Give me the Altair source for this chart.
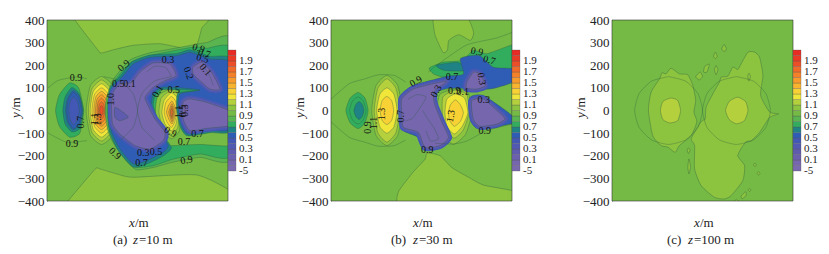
import altair as alt

LEVELS = [-5, 0, .1, .2, .3, .4, .5, .6, .7, .8, .9, 1.0, 1.1, 1.2, 1.3, 1.4, 1.5, 1.6, 1.7, 1.8, 1.9, 2.0]
BAND_COLORS = ["#7A69AE", "#7566AE", "#6A60AE", "#5F5BAF", "#5159B2", "#4358B4", "#2F5DB5", "#1F8284",
               "#32AD5E", "#5AB44F", "#74BA45", "#8CC33F", "#B4D03D", "#F0E63A", "#F8D135", "#F8B42F",
               "#F69B2C", "#F4812A", "#F06A29", "#EC4F27", "#EA3A26", "#E82B24"]
COL = dict(zip(LEVELS, BAND_COLORS))
BAR_LABELS = ["-5", "0.1", "0.3", "0.5", "0.7", "0.9", "1.1", "1.3", "1.5", "1.7", "1.9"]
LINE = "#2c5a3a"
FONT = "Liberation Serif"

# ---------- panel (a) z=10 m ----------
a_top = [(-277,420),(-277,400),(-174,266),(-160,254),(-100,270),(-19,288),(99,295),(217,273),(261,288),(283,362),(294,420)]
a_bot = [(-320,-420),(-307,-400),(-189,-261),(-167,-258),(-93,-280),(-19,-295),(261,-285),(420,-362),(420,-420)]
a_bl8 = [(-300,122),(-260,100),(-238,0),(-255,-100),(-300,-118),(-345,-70),(-362,0),(-345,70)]
a_bl7 = [(-290,102),(-258,75),(-240,0),(-255,-80),(-290,-95),(-320,-60),(-330,0),(-320,60)]
a_bl6 = [(-285,88),(-255,60),(-243,0),(-255,-60),(-285,-85),(-310,-50),(-318,0),(-310,50)]
a_bl5 = [(-282,80),(-258,50),(-248,0),(-258,-55),(-282,-80),(-305,-50),(-313,0),(-305,50)]
a_bl4 = [(-282,60),(-265,40),(-257,0),(-265,-40),(-282,-65),(-298,-40),(-304,0),(-298,40)]
a_l10 = [(-159,150),(-110,110),(-91,0),(-110,-110),(-159,-150),(-208,-110),(-227,0),(-208,110)]
a_l11 = [(-159,135),(-116,95),(-101,0),(-116,-95),(-159,-135),(-202,-95),(-217,0),(-202,95)]
a_l12 = [(-159,118),(-122,83),(-109,0),(-122,-83),(-159,-118),(-196,-83),(-209,0),(-196,83)]
a_l13 = [(-159,100),(-128,70),(-117,0),(-128,-70),(-159,-100),(-190,-70),(-201,0),(-190,70)]
a_l14 = [(-159,85),(-134,60),(-125,0),(-134,-60),(-159,-85),(-184,-60),(-193,0),(-184,60)]
a_l15 = [(-159,70),(-139,49),(-132,0),(-139,-49),(-159,-70),(-179,-49),(-186,0),(-179,49)]
a_l16 = [(-159,55),(-144,38),(-139,0),(-144,-38),(-159,-55),(-174,-38),(-179,0),(-174,38)]
a_l17 = [(-159,38),(-149,27),(-145,0),(-149,-27),(-159,-38),(-169,-27),(-173,0),(-169,27)]
a_l18 = [(-159,22),(-153,15),(-151,0),(-153,-15),(-159,-22),(-165,-15),(-167,0),(-165,15)]
a_w8 = [(420,310),(305,300),(246,290),(128,268),(55,255),(-35,222),(-108,135),(-138,52),(-142,-15),(-130,-92),(-104,-148),(-48,-225),(-4,-262),(69,-252),(158,-228),(276,-207),(420,-207)]
a_w7 = [(420,266),(305,275),(246,280),(128,258),(55,243),(-27,214),(-100,133),(-130,52),(-134,-15),(-122,-89),(-96,-140),(-41,-214),(-4,-251),(69,-244),(158,-215),(276,-192),(420,-192)]
a_g9 = [(100,-60),(130,-150),(165,-155),(276,-150),(420,-155),(420,-80),(200,0),(150,100),(100,80)]
a_h10 = [(150,95),(200,70),(190,-10),(185,-90),(150,-125),(105,-85),(80,-10),(90,65)]
a_h11 = [(150,88),(190,60),(183,-10),(178,-75),(150,-105),(112,-75),(95,-10),(105,55)]
a_h12 = [(150,78),(180,50),(178,-10),(170,-60),(150,-90),(122,-60),(108,-10),(118,45)]
a_h13 = [(150,62),(170,38),(172,-10),(165,-50),(150,-75),(130,-50),(118,-10),(125,35)]
a_h14 = [(152,42),(164,20),(167,-8),(162,-38),(152,-60),(138,-38),(128,-8),(136,20)]
a_h15 = [(152,30),(160,12),(163,-8),(159,-30),(152,-50),(144,-30),(138,-8),(144,12)]
a_h16 = [(152,20),(157,5),(159,-8),(156,-25),(152,-38),(147,-25),(144,-8),(147,5)]
a_h17 = [(152,8),(155,0),(156,-10),(154,-20),(151,-28),(148,-20),(147,-10),(148,0)]
a_w6 = [(420,222),(320,240),(232,268),(173,252),(55,245),(-25,215),(-70,160),(-122,100),(-129,21),(-129,-50),(-122,-100),(-85,-178),(-19,-250),(45,-235),(114,-200),(150,-165),(108,-100),(92,-52),(70,21),(77,65),(106,92),(190,92),(276,86),(180,78),(173,6),(188,-70),(220,-112),(320,-98),(420,-82)]
a_w5 = [(420,205),(320,228),(232,257),(173,242),(55,235),(-19,206),(-63,154),(-115,95),(-122,21),(-122,-50),(-115,-96),(-78,-170),(-19,-236),(40,-222),(114,-185),(136,-155),(100,-100),(84,-52),(62,21),(69,73),(106,102),(190,100),(276,90),(187,73),(180,6),(195,-67),(224,-104),(320,-89),(420,-74)]
a_p1 = [(-78,117),(-26,124),(10,169),(69,210),(143,205),(170,154),(121,132),(69,102),(33,58),(47,21),(77,-38),(121,-96),(114,-133),(55,-170),(-11,-155),(-78,-104),(-110,-60),(-115,21),(-107,80)]
a_p2 = [(246,191),(283,213),(327,169),(364,95),(320,95),(276,132),(246,161)]
a_p3 = [(202,36),(232,51),(305,36),(420,-8),(420,-64),(305,-79),(232,-89),(202,-38)]
a_p4 = [(-100,14),(-63,-8),(-41,-30),(-78,-45),(-100,-30)]
a_line1 = [(-396,99),(-351,133),(-270,148),(-223,140)]
a_line2 = [(-396,-99),(-314,-140),(-223,-133)]
a_circ1 = [(-150,150),(-75,130),(-20,75),(0,0),(-20,-75),(-75,-130)]
a_circ2 = [(150,150),(75,130),(20,75),(0,0),(20,-75),(75,-130)]
a_inner1 = [(40,170),(75,195),(125,190),(150,150)]
a_inner2 = [(260,185),(290,195),(320,150),(335,110)]
a_text = [(-272,143,"0.9",0),(-290,-148,"0.9",0),(-60,198,"0.9",320),(-100,-190,"0.9",45),(18,-233,"0.7",0),
          (217,-220,"0.9",350),(205,-140,"0.7",0),(265,-103,"0.7",0),(145,-95,"0.9",30),(135,225,"0.3",0),
          (225,165,"0.2",70),(300,180,"0.1",50),(270,275,"0.9",15),(295,252,"0.7",15),(288,230,"0.5",15),
          (-35,118,"0.1",0),(-85,118,"0.5",0),(90,85,"0.1",300),(160,92,"0.5",0),(-115,50,"1.0",270),
          (-250,-52,"0.7",270),(-190,-38,"1.1",270),(-175,-40,"1.3",270),(82,-185,"0.5",0),(25,-188,"0.3",0),
          (185,-5,"1.1",270),(200,-2,"0.5",270),(212,0,"0.3",270)]

# ---------- panel (b) z=30 m ----------
b_top = [(50,420),(50,400),(60,333),(95,257),(115,268),(121,310),(165,335),(216,310),(230,347),(193,420)]
b_bot = [(-110,-420),(-110,-400),(-100,-355),(-35,-270),(16,-215),(25,-188),(82,-200),(134,-252),(208,-295),(275,-330),(420,-360),(420,-420)]
b_bl8 = [(-280,80),(-250,55),(-236,0),(-250,-55),(-280,-80),(-315,-55),(-334,0),(-315,55)]
b_bl7 = [(-280,60),(-258,42),(-245,0),(-258,-42),(-280,-60),(-305,-42),(-318,0),(-305,42)]
b_bl6 = [(-276,40),(-262,28),(-254,0),(-262,-28),(-276,-40),(-290,-28),(-299,0),(-290,28)]
b_l10 = [(-153,155),(-105,110),(-87,0),(-105,-110),(-153,-155),(-201,-110),(-220,0),(-201,110)]
b_l11 = [(-153,140),(-113,98),(-97,0),(-113,-98),(-153,-140),(-193,-98),(-209,0),(-193,98)]
b_l12 = [(-153,100),(-122,72),(-108,0),(-122,-72),(-153,-100),(-184,-72),(-198,0),(-184,72)]
b_l13 = [(-153,62),(-132,44),(-123,0),(-132,-44),(-153,-62),(-174,-44),(-183,0),(-174,44)]
b_h10 = [(148,95),(205,80),(222,-10),(195,-105),(140,-150),(90,-100),(70,-10),(80,70)]
b_h11 = [(148,90),(200,70),(210,-10),(185,-85),(145,-122),(105,-85),(92,-10),(95,60)]
b_h12 = [(148,73),(190,55),(205,-10),(180,-70),(145,-104),(112,-70),(104,-10),(112,50)]
b_h13 = [(150,47),(172,25),(185,-10),(172,-48),(145,-70),(125,-45),(119,-10),(128,25)]
b_g7 = [(35,188),(97,214),(179,221),(230,266),(288,251),(400,290),(420,280),(420,170),(288,126),(97,148),(53,162)]
b_t6 = [(67,201),(156,213),(190,195),(185,175),(112,176),(80,185)]
b_w5 = [(-92,66),(-36,110),(112,151),(185,161),(171,228),(215,242),(259,242),(318,191),(420,183),(420,132),(303,95),(126,98),(53,73),(67,21),(97,-45),(134,-119),(97,-158),(16,-177),(-14,-119),(-80,-89),(-95,-23)]
b_w5b = [(215,58),(274,66),(392,-15),(420,-52),(318,-74),(244,-79),(215,-38)]
b_p1 = [(-87,51),(-36,95),(60,120),(110,128),(60,90),(53,58),(60,21),(90,-52),(119,-119),(82,-155),(16,-163),(-14,-96),(-80,-74),(-87,-8)]
b_p2 = [(200,124),(229,169),(259,161),(281,110),(244,95),(200,98)]
b_p3 = [(222,43),(274,51),(333,0),(369,-37),(333,-60),(259,-70),(229,-38)]
b_line1 = [(-400,50),(-320,118),(-250,140),(-190,158),(-120,155),(-70,125)]
b_line2 = [(-400,-50),(-320,-118),(-250,-140),(-190,-158),(-120,-155),(-70,-130)]
b_line3 = [(30,170),(95,220),(200,290),(330,320),(400,345)]
b_line4 = [(60,-145),(140,-148),(200,-135),(290,-88),(400,-60)]
b_inner1 = [(-60,50),(-20,70),(20,60),(-5,15),(-40,-35),(-70,-45)]
b_inner2 = [(5,0),(30,-40),(60,-85),(75,-125),(40,-135),(20,-90)]
b_text = [(245,260,"0.9",10),(300,222,"0.7",15),(265,140,"0.3",80),(135,150,"0.7",0),(-25,128,"0.9",330),
          (65,85,"0.3",300),(145,85,"0.9",0),(182,82,"0.1",0),(-175,-15,"1.3",270),(-210,-55,"1.1",270),
          (-235,-75,"0.9",270),(-92,-25,"0.7",270),(130,-25,"1.3",280),(280,-90,"0.9",0),(25,-175,"0.9",0),
          (275,45,"0.3",0)]

# ---------- panel (c) z=100 m ----------
c_left = [(-239,0),(-227,81),(-190,140),(-179,167),(-161,162),(-139,187),(-102,162),(-65,158),(-43,111),(-30,44),(-38,-7),(-25,-50),(-50,-111),(-102,-155),(-121,-185),(-153,-162),(-183,-155),(-220,-111)]
c_right = [(12,-37),(16,15),(46,74),(75,126),(83,148),(112,152),(134,192),(156,181),(171,207),(201,258),(230,258),(252,236),(267,155),(257,66),(297,-7),(337,-15),(297,-30),(253,-96),(216,-133),(190,-140),(156,-199),(186,-244),(178,-310),(127,-376),(97,-391),(53,-384),(-6,-332),(-35,-258),(-35,-155),(-50,-125),(-13,-59),(1,-44)]
c_inL = [(-140,55),(-110,45),(-97,0),(-110,-45),(-145,-55),(-175,-40),(-186,0),(-175,40)]
c_inR = [(155,59),(190,40),(201,0),(185,-45),(150,-59),(118,-40),(102,0),(118,40)]
c_circL = [(-150,150),(-75,130),(-20,75),(0,0),(-20,-75),(-75,-130),(-150,-150),(-225,-130),(-280,-75),(-300,0),(-280,75),(-225,130),(-150,150)]
c_circR = [(150,150),(225,130),(280,75),(300,0),(280,-75),(225,-130),(150,-150),(75,-130),(20,-75),(0,0),(20,75),(75,130),(150,150)]
c_i1 = [(95,292),(105,275),(100,261),(85,270)]
c_i2 = [(57,258),(65,240),(57,229),(49,240)]
c_i3 = [(60,199),(68,180),(60,158),(53,180)]
c_i4 = [(-60,-214),(-53,-250),(-60,-280),(-65,-250)]
c_i5 = [(190,-359),(193,-375),(175,-391),(171,-378)]
c_i6 = [(10,195),(30,205),(20,170),(5,170)]
c_i7 = [(-30,150),(-10,170),(0,150),(-15,135)]
c_i8 = [(205,165),(212,150),(205,130),(200,150)]
c_i9 = [(-62,-165),(-55,-175),(-62,-190),(-68,-175)]
c_i10 = [(232,-232),(238,-240),(232,-248),(226,-240)]
c_i11 = [(248,-270),(254,-278),(248,-286),(242,-278)]
c_i12 = [(208,-345),(214,-350),(208,-358),(202,-350)]
c_i13 = [(150,-392),(158,-400),(150,-405),(142,-400)]

PANEL_FILLS = [
    [(a_top,1.0),(a_bot,1.0),(a_bl8,.7),(a_bl7,.6),(a_bl6,.5),(a_bl5,.5),(a_bl4,.4),
     (a_l10,1.0),(a_l11,1.1),(a_l12,1.2),(a_l13,1.3),(a_l14,1.4),(a_l15,1.5),(a_l16,1.6),(a_l17,1.7),(a_l18,1.8),
     (a_w8,.8),(a_w7,.7),(a_g9,.9),(a_h10,1.0),(a_h11,1.1),(a_h12,1.2),(a_h13,1.3),(a_h14,1.4),(a_h15,1.5),(a_h16,1.6),(a_h17,1.7),
     (a_w6,.6),(a_w5,.5)],
    [(b_top,1.0),(b_bot,1.0),(b_bl8,.7),(b_bl7,.7),(b_bl6,.6),
     (b_l10,1.0),(b_l11,1.1),(b_l12,1.2),(b_l13,1.3),
     (b_h10,1.0),(b_h11,1.1),(b_h12,1.2),(b_h13,1.3),
     (b_g7,.7),(b_t6,.6),(b_w5,.5),(b_w5b,.5)],
    [(c_left,1.0),(c_right,1.0),(c_inL,1.1),(c_inR,1.1),(c_i1,1.0),(c_i2,1.0),(c_i3,1.0),(c_i4,1.0),(c_i5,1.0),(c_i6,1.0),(c_i7,1.0),(c_i8,1.0),(c_i9,1.0),
     (c_i10,1.0),(c_i11,1.0),(c_i12,1.0),(c_i13,1.0)],
]
PANEL_CORES = [[a_p1, a_p2, a_p3], [b_p1, b_p2, b_p3], []]
PANEL_PATCH = [[a_p4], [], []]
PANEL_LINES = [
    [a_line1, a_line2, a_circ1, a_circ2, a_inner1, a_inner2],
    [b_line1, b_line2, b_line3, b_line4, b_inner1, b_inner2],
    [c_circL, c_circR],
]
PANEL_TEXT = [a_text, b_text, []]
CAPTIONS = [("(a)", 66, 86, "=10 m", 92), ("(b)", 60, 82, "=30 m", 88), ("(c)", 55, 76, "=100 m", 82)]

W = 181
SX = alt.Scale(domain=[-400, 400], nice=False)
SY = alt.Scale(domain=[-400, 400], nice=False)
X = alt.X("x:Q", scale=SX, axis=None)
Y = alt.Y("y:Q", scale=SY, axis=None)


def rows(pts):
    return alt.Data(values=[{"x": p[0], "y": p[1], "i": i} for i, p in enumerate(pts)])


def filled(pts, level, stroke=LINE, sw=0.45, so=0.8):
    return alt.Chart(rows(pts)).mark_line(
        interpolate="cardinal-closed", tension=0.4, fill=COL[level], stroke=stroke,
        strokeWidth=sw, strokeOpacity=so, clip=True
    ).encode(x=X, y=Y, order=alt.Order("i:Q"))


def outline(pts):
    return alt.Chart(rows(pts)).mark_line(
        interpolate="cardinal", tension=0.4, stroke=LINE, strokeWidth=0.45, strokeOpacity=0.7, clip=True
    ).encode(x=X, y=Y, order=alt.Order("i:Q"))


def label(text, px, py, italic=False, angle=0, size=13):
    return alt.Chart(alt.Data(values=[{"t": text}])).mark_text(
        font=FONT, fontSize=size, fontStyle="italic" if italic else "normal", align="left",
        baseline="middle", color="#222", angle=angle
    ).encode(text="t:N", x=alt.value(px), y=alt.value(py))


def panel(n):
    base = alt.Chart(alt.Data(values=[{"x": -400, "x2": 400, "y": -400, "y2": 400}])).mark_rect(
        fill=COL[.9]
    ).encode(
        x=alt.X("x:Q", scale=SX, axis=alt.Axis(values=[-400, -200, 0, 200, 400], title=None, grid=False, ticks=False,
                                               labelFont=FONT, labelFontSize=13, labelColor="#222", labelPadding=3,
                                               domainColor="#333", domainWidth=0.6, labelOverlap=False)),
        x2="x2:Q",
        y=alt.Y("y:Q", scale=SY, axis=alt.Axis(values=list(range(-400, 401, 100)), title=None, grid=False, ticks=False,
                                               labelFont=FONT, labelFontSize=13, labelColor="#222", labelPadding=3,
                                               domainColor="#333", domainWidth=0.6, labelOverlap=False)),
        y2="y2:Q",
    )
    layers = [base]
    layers += [filled(p, lv) for p, lv in PANEL_FILLS[n]]
    for core in PANEL_CORES[n]:
        layers.append(filled(core, .4, COL[.4], 7, 1))
        layers.append(filled(core, .3, COL[.3], 4.5, 1))
        layers.append(filled(core, .2, COL[.2], 2.5, 1))
        layers.append(filled(core, 0))
    layers += [filled(p, .2) for p in PANEL_PATCH[n]]
    layers += [outline(p) for p in PANEL_LINES[n]]
    if PANEL_TEXT[n]:
        tv = [{"x": a, "y": b, "t": c, "a": d} for a, b, c, d in PANEL_TEXT[n]]
        layers.append(alt.Chart(alt.Data(values=tv)).mark_text(font=FONT, fontSize=10, color="#111", clip=True).encode(
            x=X, y=Y, text="t:N", angle=alt.Angle("a:Q", scale=None)))
    layers.append(alt.Chart(alt.Data(values=[{"x": -400, "x2": 400, "y": -400, "y2": 400}])).mark_rect(
        filled=False, stroke="#333", strokeWidth=0.6).encode(x=X, x2="x2:Q", y=Y, y2="y2:Q"))
    # axis titles and caption
    layers += [label("x", 82, 203, True), label("/m", 88, 203),
               label("y", -31, 98, True, 270), label("/m", -31, 91, False, 270)]
    cap = CAPTIONS[n]
    layers += [label(cap[0], cap[1], 220), label("z", cap[2], 220, True), label(cap[3], cap[4], 220)]
    # colour bar
    bar = [{"lo": i, "hi": i + 1, "c": c} for i, c in enumerate(BAND_COLORS)]
    ybar = alt.Y("lo:Q", axis=None, scale=alt.Scale(domain=[0, 22], range=[151, 30], nice=False))
    layers.append(alt.Chart(alt.Data(values=bar)).mark_rect(stroke="#555", strokeWidth=0.3, clip=False).encode(
        x=alt.value(W), x2=alt.value(W + 8), y=ybar, y2="hi:Q", fill=alt.Fill("c:N", scale=None)))
    labs = [{"lo": i * 2, "t": t} for i, t in enumerate(BAR_LABELS)]
    layers.append(alt.Chart(alt.Data(values=labs)).mark_text(font=FONT, fontSize=11, align="left", color="#222").encode(
        x=alt.value(W + 11), y=ybar, text="t:N"))
    return alt.layer(*layers).resolve_scale(y="independent").properties(width=W, height=W)


chart = alt.hconcat(alt.hconcat(panel(0), panel(1), spacing=41), panel(2), spacing=38).properties(
    padding={"left": 2, "top": 6, "right": 0, "bottom": 0}
).configure_view(stroke=None)
chart.save("out.html", embed_options={"renderer": "svg", "actions": False})
